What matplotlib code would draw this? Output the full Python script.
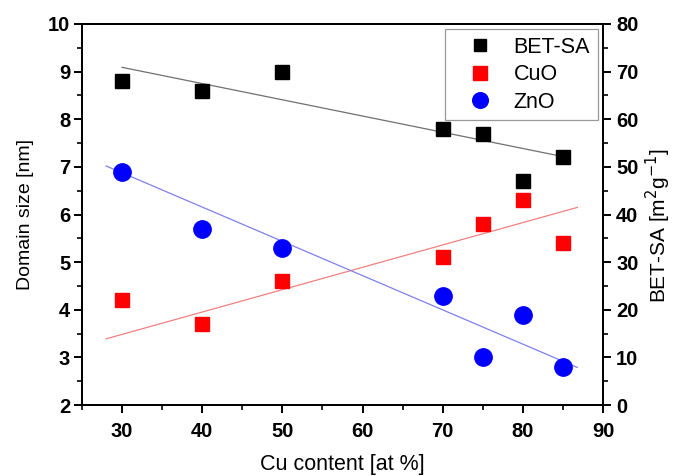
import matplotlib.pyplot as plt
import numpy as np

plt.rcParams['font.family'] = ['Liberation Sans', 'DejaVu Sans']

# data
cu = np.array([30, 40, 50, 70, 75, 80, 85])
bet = np.array([68, 66, 70, 58, 57, 47, 52])          # m2/g, right axis
cuo = np.array([4.2, 3.7, 4.6, 5.1, 5.8, 6.3, 5.4])   # nm
zno = np.array([6.9, 5.7, 5.3, 4.3, 3.0, 3.9, 2.8])   # nm

# fit lines as drawn in the original (x range, end values)
fit_bet_x = [30, 84.6]
fit_bet_y = [70.9, 52.3]
fit_cuo_x = [28, 86.8]
fit_cuo_y = [3.39, 6.15]
fit_zno_x = [28, 86.8]
fit_zno_y = [7.02, 2.79]

fig = plt.figure(figsize=(6.76, 4.76), dpi=100)
ax = fig.add_axes([0.1213, 0.149, 0.7707, 0.8006])
ax2 = ax.twinx()

ax2.plot(fit_bet_x, fit_bet_y, color="#707070", lw=0.9, zorder=1)
ax.plot(fit_cuo_x, fit_cuo_y, color="#f08080", lw=0.9, zorder=1)
ax.plot(fit_zno_x, fit_zno_y, color="#8080e8", lw=0.9, zorder=1)

h1, = ax2.plot(cu, bet, "s", color="black", ms=10, ls="none", label="BET-SA")
h2, = ax.plot(cu, cuo, "s", color="red", ms=10.5, ls="none", label="CuO")
h3, = ax.plot(cu, zno, "o", color="blue", ms=12.5, ls="none", label="ZnO")

ax.set_xlim(25, 90)
ax.set_ylim(2, 10)
ax2.set_ylim(0, 80)
ax.set_xticks(np.arange(30, 91, 10))
ax.set_xticks(np.arange(25, 91, 5), minor=True)
ax.set_yticks(np.arange(2, 11, 1))
ax.set_yticks(np.arange(2, 10.01, 0.5), minor=True)
ax2.set_yticks(np.arange(0, 81, 10))
ax2.set_yticks(np.arange(0, 81, 5), minor=True)

for a in (ax, ax2):
    for s in a.spines.values():
        s.set_linewidth(1.4)
    a.tick_params(which="major", direction="out", length=5.5, width=1.4, labelsize=14.5)
    a.tick_params(which="minor", direction="out", length=3.5, width=1.2)
    for lab in a.get_xticklabels() + a.get_yticklabels():
        lab.set_fontweight("bold")
ax.tick_params(axis="x", which="major", pad=7)
ax.tick_params(axis="y", which="major", pad=3)
ax2.tick_params(axis="y", which="major", pad=4)

ax.set_xlabel("Cu content [at %]", fontsize=15.5, labelpad=9)
ax.set_ylabel("Domain size [nm]", fontsize=14, labelpad=10)
ax2.set_ylabel("BET-SA [m$^2$g$^{-1}$]", fontsize=15)
ax2.yaxis.set_label_coords(1.078, 0.47)

leg = ax2.legend(handles=[h1, h2, h3], loc="upper right", fontsize=15.5,
                 frameon=True, fancybox=False, edgecolor="#808080",
                 borderaxespad=0.25, handletextpad=0.25, labelspacing=0.3,
                 handlelength=2.6, borderpad=0.35, markerscale=0.9)
leg.get_frame().set_linewidth(0.9)

fig.savefig("out.png", dpi=100)
